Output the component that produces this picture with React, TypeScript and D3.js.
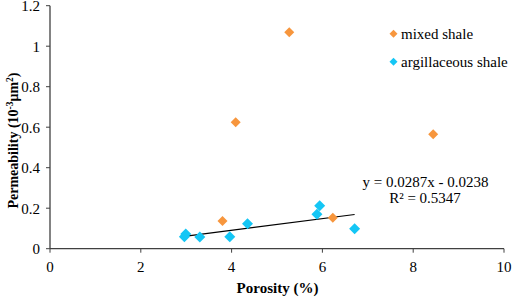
import React from "react";
import * as d3 from "d3";

const mixedX = [5.27, 4.09, 8.44, 3.8, 6.23];
const mixedY = [1.069, 0.624, 0.565, 0.137, 0.153];
const argX = [2.96, 2.99, 3.3, 3.96, 4.35, 5.88, 5.94, 6.71];
const argY = [0.059, 0.073, 0.058, 0.059, 0.123, 0.17, 0.212, 0.099];
const xTicks = [0, 2, 4, 6, 8, 10];
const yTicks = [0, 0.2, 0.4, 0.6, 0.8, 1, 1.2];
const slope = 0.0287;
const intercept = -0.0238;
const eqText = "y = 0.0287x - 0.0238";
const r2Text = "R² = 0.5347";
const seriesNames = ["mixed shale", "argillaceous shale"];

const ORANGE = "#F7963D";
const CYAN = "#14C6F5";
const FONT = "Liberation Serif";

export default function App() {
  const W = 512, H = 297;
  const x = d3.scaleLinear().domain([0, 10]).range([50, 504]);
  const y = d3.scaleLinear().domain([0, 1.2]).range([248.7, 5.7]);
  const diamond = (r: number) => `M0,${-r}L${r},0L0,${r}L${-r},0Z`;
  const x0 = d3.min(argX)!, x1 = d3.max(argX)!;
  const line = d3.line<number>().x((v) => x(v)).y((v) => y(slope * v + intercept));
  return (
    <svg width={W} height={H} fontFamily={FONT} style={{ position: "absolute", left: 0, top: 0, background: "#fff" }}>
      <line x1={x(0)} x2={x(10)} y1={y(0)} y2={y(0)} stroke="#404040" strokeWidth={1.3} />
      <line x1={x(0)} x2={x(0)} y1={y(0)} y2={y(1.2)} stroke="#404040" strokeWidth={1.3} />
      {xTicks.map((t) => (
        <g key={"xt" + t}>
          <line x1={x(t)} x2={x(t)} y1={y(0)} y2={y(0) + 4} stroke="#404040" strokeWidth={1} />
          <text fontFamily={FONT} x={x(t)} y={271.5} textAnchor="middle" fontSize={15} fill="#000">{t}</text>
        </g>
      ))}
      {yTicks.map((t) => (
        <g key={"yt" + t}>
          <line x1={x(0) - 4} x2={x(0)} y1={y(t)} y2={y(t)} stroke="#404040" strokeWidth={1} />
          <text fontFamily={FONT} x={40} y={y(t) + 5.5} textAnchor="end" fontSize={15} fill="#000">{t}</text>
        </g>
      ))}
      <path d={line([x0, x1])!} stroke="#000" strokeWidth={1.2} fill="none" />
      {argX.map((v, i) => (
        <path key={"a" + i} d={diamond(5.5)} transform={`translate(${x(v)},${y(argY[i])})`} fill={CYAN} />
      ))}
      {mixedX.map((v, i) => (
        <path key={"m" + i} d={diamond(5)} transform={`translate(${x(v)},${y(mixedY[i])})`} fill={ORANGE} />
      ))}
      <text fontFamily={FONT} x={425.5} y={186.7} textAnchor="middle" fontSize={15} fill="#000">{eqText}</text>
      <text fontFamily={FONT} x={425} y={203} textAnchor="middle" fontSize={15} fill="#000">{r2Text}</text>
      <path d={diamond(4)} transform="translate(393.5,33.7)" fill={ORANGE} />
      <text fontFamily={FONT} x={401} y={38.5} fontSize={15} fill="#000">{seriesNames[0]}</text>
      <path d={diamond(4)} transform="translate(393.5,61.7)" fill={CYAN} />
      <text fontFamily={FONT} x={401} y={66.5} fontSize={15} fill="#000">{seriesNames[1]}</text>
      <text fontFamily={FONT} x={277.5} y={293} textAnchor="middle" fontSize={15} fontWeight="bold" fill="#000">Porosity (%)</text>
      <text fontFamily={FONT} transform="translate(18,140.5) rotate(-90)" textAnchor="middle" fontSize={14} fontWeight="bold" fill="#000">
        Permeability (10<tspan dy={-5} fontSize={9.5}>-3</tspan><tspan dy={5}>μm</tspan><tspan dy={-5} fontSize={9.5}>2</tspan><tspan dy={5}>)</tspan>
      </text>
    </svg>
  );
}
